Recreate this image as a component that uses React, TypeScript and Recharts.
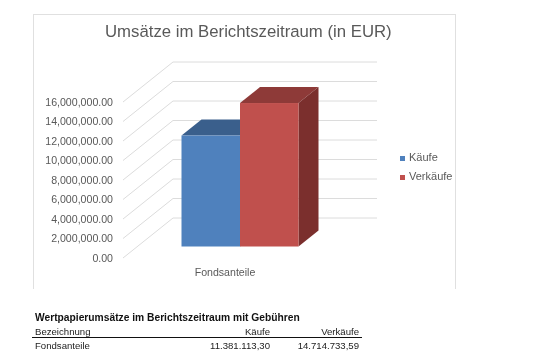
import React from 'react';
import { BarChart, Bar, XAxis, YAxis, CartesianGrid, Legend } from 'recharts';

const categories = ['Fondsanteile'];
const kaeufe = [11381113.3];
const verkaeufe = [14714733.59];
const yTicks = [0, 2000000, 4000000, 6000000, 8000000, 10000000, 12000000, 14000000, 16000000];
const chartTitle = 'Umsätze im Berichtszeitraum (in EUR)';
const tableTitle = 'Wertpapierumsätze im Berichtszeitraum mit Gebühren';
const tableHeader = ['Bezeichnung', 'Käufe', 'Verkäufe'];
const tableRow = ['Fondsanteile', '11.381.113,30', '14.714.733,59'];

const data = categories.map((name, i) => ({ name, Käufe: kaeufe[i], Verkäufe: verkaeufe[i] }));

const FONT = '"Liberation Sans", Arial, sans-serif';
const TEXT = '#595959';
const GRID = '#dcdcdc';
const WALL_DX = 50, WALL_DY = 40, RIGHT = 377;
const SHIFT_X = 14.5, SHIFT_Y = 11.5, DEPTH_X = 20, DEPTH_Y = 16;

const GridLine = (p: any) => (
  <polyline
    key={p.key ?? p.y1}
    points={`${p.x1},${p.y1} ${p.x1 + WALL_DX},${p.y1 - WALL_DY} ${RIGHT},${p.y1 - WALL_DY}`}
    fill="none" stroke={GRID} strokeWidth={1}
  />
);

const box = (front: string, top: string, side: string) => (p: any) => {
  const x = p.x + SHIFT_X, y = p.y - SHIFT_Y, w = p.width, h = p.height;
  return (
    <g>
      <polygon points={`${x},${y} ${x + DEPTH_X},${y - DEPTH_Y} ${x + w + DEPTH_X},${y - DEPTH_Y} ${x + w},${y}`} fill={top} />
      <polygon points={`${x + w},${y} ${x + w + DEPTH_X},${y - DEPTH_Y} ${x + w + DEPTH_X},${y + h - DEPTH_Y} ${x + w},${y + h}`} fill={side} />
      <rect x={x} y={y} width={w} height={h} fill={front} />
    </g>
  );
};

const abs = (left: number, top: number, extra: React.CSSProperties = {}): React.CSSProperties => ({
  position: 'absolute', left, top, fontFamily: FONT, whiteSpace: 'nowrap', lineHeight: 1, ...extra,
});

export default function App() {
  return (
    <div style={{ position: 'absolute', left: 0, top: 0, width: 533, height: 362, background: '#fff', overflow: 'hidden', filter: 'blur(0.3px)' }}>
      <div style={{ position: 'absolute', left: 33, top: 14, width: 421, height: 274, borderTop: '1px solid #e0e0e0', borderLeft: '1px solid #e0e0e0', borderRight: '1px solid #e0e0e0' }} />
      <div style={abs(105, 24, { fontSize: 16.75, color: TEXT })}>{chartTitle}</div>
      <div style={{ position: 'absolute', left: 0, top: 0 }}>
        <BarChart width={533} height={362} data={data} barSize={58.5} barGap={0} margin={{ left: 0, top: 102, right: 126, bottom: 74 }}>
          <CartesianGrid vertical={false} horizontal={GridLine as any} />
          <XAxis dataKey="name" axisLine={false} tickLine={false} height={30} tick={{ fontSize: 10.6, fill: TEXT, fontFamily: FONT }} tickMargin={4} />
          <YAxis width={123} domain={[0, 16000000]} ticks={yTicks} axisLine={false} tickLine={false} interval={0} tickMargin={4}
            tick={{ fontSize: 10.6, fill: TEXT, fontFamily: FONT }}
            tickFormatter={(v: number) => v.toLocaleString('en-US', { minimumFractionDigits: 2, maximumFractionDigits: 2 })} />
          <Bar dataKey="Käufe" fill="#4f81bd" isAnimationActive={false} shape={box('#4f81bd', '#3a5f8c', '#355a85') as any} />
          <Bar dataKey="Verkäufe" fill="#c0504d" isAnimationActive={false} shape={box('#c0504d', '#8e3a38', '#7b2f2d') as any} />
          <Legend layout="vertical" align="right" verticalAlign="top" iconType="square" iconSize={5}
            wrapperStyle={{ left: 400, top: 148, width: 80, right: 'auto', fontFamily: FONT, fontSize: 11, lineHeight: '19px' }}
            formatter={(v: string) => <span style={{ color: TEXT }}>{v}</span>} />
        </BarChart>
      </div>
      <div style={abs(35, 312.5, { fontSize: 10.26, fontWeight: 700, color: '#111' })}>{tableTitle}</div>
      <div style={abs(35, 327, { fontSize: 9.6, color: '#222' })}>{tableHeader[0]}</div>
      <div style={abs(170, 327, { fontSize: 9.6, color: '#222', width: 100, textAlign: 'right' })}>{tableHeader[1]}</div>
      <div style={abs(259, 327, { fontSize: 9.6, color: '#222', width: 100, textAlign: 'right' })}>{tableHeader[2]}</div>
      <div style={{ position: 'absolute', left: 32, top: 337, width: 330, height: 1, background: '#111' }} />
      <div style={abs(35, 340.5, { fontSize: 9.6, color: '#222' })}>{tableRow[0]}</div>
      <div style={abs(170, 340.5, { fontSize: 9.6, color: '#222', width: 100, textAlign: 'right' })}>{tableRow[1]}</div>
      <div style={abs(259, 340.5, { fontSize: 9.6, color: '#222', width: 100, textAlign: 'right' })}>{tableRow[2]}</div>
    </div>
  );
}
